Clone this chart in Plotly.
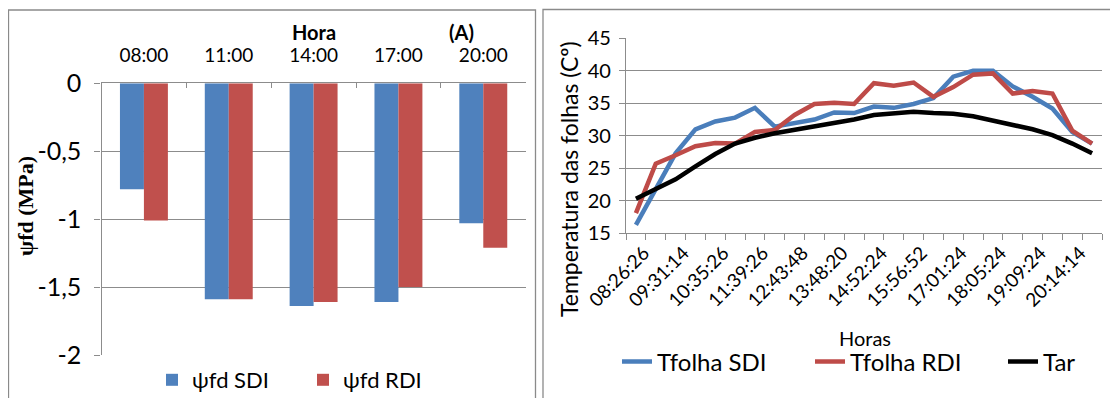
import plotly.graph_objects as go

# reference canvas; the page body adds an 8px margin, so the figure is drawn 8px smaller
REF_W, REF_H = 1118, 398
OFF = 8
W, H = REF_W - OFF, REF_H - OFF

# ---------- data: left panel (leaf water potential) ----------
horas = ["08:00", "11:00", "14:00", "17:00", "20:00"]
psi_sdi = [-0.78, -1.59, -1.64, -1.61, -1.03]
psi_rdi = [-1.01, -1.59, -1.61, -1.50, -1.21]
psi_ticks = [0, -0.5, -1, -1.5, -2]
psi_ticktext = ["0", "-0,5", "-1", "-1,5", "-2"]

# ---------- data: right panel (temperatures) ----------
time_labels = ["08:26:26", "09:31:14", "10:35:26", "11:39:26", "12:43:48", "13:48:20",
               "14:52:24", "15:56:52", "17:01:24", "18:05:24", "19:09:24", "20:14:14"]
idx = list(range(24))
t_sdi = [16.3, 21.8, 27.3, 31.0, 32.2, 32.8, 34.3, 31.4, 31.9, 32.5, 33.6, 33.5,
         34.5, 34.3, 34.9, 35.8, 39.1, 40.0, 40.0, 37.6, 36.0, 34.2, 30.6, 28.8]
t_rdi = [18.1, 25.7, 27.0, 28.4, 28.9, 28.8, 30.6, 30.9, 33.2, 34.9, 35.1, 34.9,
         38.1, 37.7, 38.2, 36.0, 37.5, 39.4, 39.6, 36.5, 36.9, 36.5, 30.8, 28.8]
t_ar = [20.3, 21.8, 23.3, 25.3, 27.2, 28.8, 29.7, 30.4, 30.9, 31.5, 32.0, 32.5,
        33.2, 33.5, 33.7, 33.5, 33.4, 33.0, 32.3, 31.7, 31.0, 30.1, 28.8, 27.3]

BLUE_BAR, RED_BAR = "#4F81BD", "#C0504D"
BLUE_LN, RED_LN = "#4A7EBB", "#BE4B48"
GRID = "#8C8C8C"
FONT = "Lato"

def px_x(p):
    return (p - OFF) / W

def px_y(p):
    return 1 - (p - OFF) / H

fig = go.Figure()

# left bars
fig.add_trace(go.Bar(x=horas, y=psi_sdi, name="ψfd SDI", marker_color=BLUE_BAR,
                     marker_line_width=0, xaxis="x", yaxis="y", legend="legend"))
fig.add_trace(go.Bar(x=horas, y=psi_rdi, name="ψfd RDI", marker_color=RED_BAR,
                     marker_line_width=0, xaxis="x", yaxis="y", legend="legend"))

# right lines
fig.add_trace(go.Scatter(x=idx, y=t_sdi, mode="lines", name="Tfolha SDI",
                         line=dict(color=BLUE_LN, width=4.5), xaxis="x2", yaxis="y2", legend="legend2"))
fig.add_trace(go.Scatter(x=idx, y=t_rdi, mode="lines", name="Tfolha RDI",
                         line=dict(color=RED_LN, width=4.5), xaxis="x2", yaxis="y2", legend="legend2"))
fig.add_trace(go.Scatter(x=idx, y=t_ar, mode="lines", name="Tar",
                         line=dict(color="black", width=4.5), xaxis="x2", yaxis="y2", legend="legend2"))

fig.update_layout(
    width=W, height=H,
    margin=dict(l=0, r=0, t=0, b=0, autoexpand=False),
    paper_bgcolor="white", plot_bgcolor="white",
    font=dict(family=FONT, color="black", size=17),
    barmode="group", bargap=0.435, bargroupgap=0,
    xaxis=dict(domain=[px_x(101.5), px_x(525.7)], anchor="y", side="top", automargin=False,
               type="category", tickson="boundaries", ticks="inside", ticklen=5,
               tickcolor=GRID, showline=True, linecolor=GRID, linewidth=1.3,
               showgrid=False, tickfont=dict(size=19, family=FONT), ticklabelstandoff=13),
    yaxis=dict(domain=[px_y(355), px_y(83.3)], anchor="x", range=[-2, 0], automargin=False,
               tickvals=psi_ticks, ticktext=psi_ticktext,
               ticks="outside", ticklen=6, tickcolor=GRID,
               showline=True, linecolor=GRID, linewidth=1.3,
               showgrid=True, gridcolor=GRID, gridwidth=1.3, zeroline=False,
               tickfont=dict(size=25, family=FONT), ticklabelstandoff=8),
    xaxis2=dict(domain=[px_x(626), px_x(1102)], anchor="y2", range=[-0.5, 23.5], automargin=False,
                tickvals=idx[::2], ticktext=time_labels, tickangle=-45,
                ticks="", showline=True, linecolor=GRID, linewidth=1.3,
                showgrid=False, zeroline=False, tickfont=dict(size=19, family=FONT),
                ticklabelshift=8,
                minor=dict(tick0=-0.5, dtick=1, ticks="outside", ticklen=6,
                           tickcolor=GRID, showgrid=False)),
    yaxis2=dict(domain=[px_y(233.3), px_y(38.3)], anchor="x2", range=[15, 45], automargin=False,
                dtick=5, ticks="outside", ticklen=6, tickcolor=GRID,
                showline=True, linecolor=GRID, linewidth=1.3,
                showgrid=True, gridcolor=GRID, gridwidth=1.3, zeroline=False,
                tickfont=dict(size=20, family=FONT), ticklabelstandoff=4),
    legend=dict(orientation="h", x=px_x(152), y=px_y(380), xanchor="left", yanchor="middle",
                font=dict(size=22, family=FONT), bgcolor="rgba(0,0,0,0)",
                entrywidth=106, entrywidthmode="pixels", tracegroupgap=0),
    legend2=dict(orientation="h", x=px_x(617), y=px_y(362), xanchor="left", yanchor="middle",
                 font=dict(size=24, family=FONT), bgcolor="rgba(0,0,0,0)",
                 entrywidth=148, entrywidthmode="pixels"),
    showlegend=True,
)

# titles and labels
def label(text, x, y, size, family=FONT, angle=0):
    fig.add_annotation(text=text, x=px_x(x), y=px_y(y), xref="paper", yref="paper",
                       xanchor="center", yanchor="middle", showarrow=False,
                       textangle=angle, font=dict(size=size, family=family, color="black"))

label("<b>Hora</b>", 314, 32, 20)
label("<b>(A)</b>", 461, 32, 20)
label("<b>ψfd (MPa)</b>", 25, 206, 22, family="Liberation Serif", angle=-90)
label("Temperatura das folhas (Cº)", 569, 179, 23, angle=-90)
label("Horas", 865, 338, 20)

# panel borders
fig.add_shape(type="rect", xref="paper", yref="paper",
              x0=px_x(8.5), x1=px_x(535.5), y0=px_y(420), y1=px_y(10),
              line=dict(color="#8A8A8A", width=1.3), fillcolor="rgba(0,0,0,0)", layer="below")
fig.add_shape(type="rect", xref="paper", yref="paper",
              x0=px_x(543), x1=px_x(1130), y0=px_y(420), y1=px_y(9.5),
              line=dict(color="#8A8A8A", width=1.3), fillcolor="rgba(0,0,0,0)", layer="below")

fig.write_html("out.html")
